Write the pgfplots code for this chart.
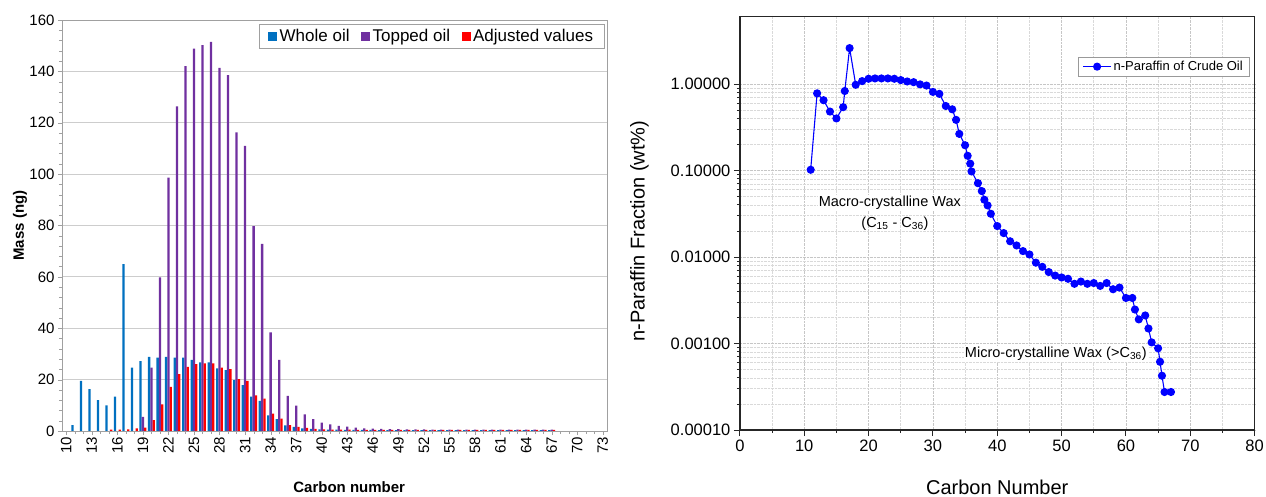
\documentclass[border=0pt]{standalone}
\usepackage{fontspec}
\setmainfont{Liberation Sans}
\usepackage{pgfplots}
\usepackage{pgfplotstable}
\pgfplotsset{compat=1.18}

\definecolor{wholeoil}{RGB}{0,112,192}
\definecolor{toppedoil}{RGB}{112,48,160}
\definecolor{adjusted}{RGB}{255,0,0}
\definecolor{gridgray}{RGB}{205,205,205}
\definecolor{framegray}{RGB}{160,160,160}

% Mass per carbon number (ng)
\pgfplotstableread{
c  whole topped adjusted
11 2.3   0     0
12 19.5  0     0
13 16.3  0     0
14 12.0  0     0
15 10.0  0     0.5
16 13.4  0     0.5
17 65.0  0     0.6
18 24.7  0     1.0
19 27.2  5.5   1.3
20 28.9  24.7  4.2
21 28.6  59.8  10.4
22 28.9  98.6  17.2
23 28.6  126.4 22.1
24 28.6  142.0 25.0
25 27.7  148.9 26.0
26 26.7  150.2 26.3
27 26.7  151.5 26.3
28 24.4  141.4 24.7
29 23.7  138.5 24.1
30 19.8  116.3 20.2
31 17.9  111.0 19.5
32 13.4  79.8  13.9
33 11.7  72.8  12.6
34 6.1   38.4  6.8
35 4.6   27.7  4.8
36 2.2   13.7  2.3
37 1.6   9.9   1.6
38 1.0   6.5   1.2
39 0.8   4.6   0.8
40 0.6   3.3   0.6
41 0.5   2.6   0.5
42 0.5   2.0   0.5
43 0.4   1.7   0.5
44 0.4   1.3   0.4
45 0.4   1.0   0.4
46 0.4   0.9   0.4
47 0.3   0.8   0.4
48 0.3   0.7   0.4
49 0.3   0.7   0.4
50 0.3   0.6   0.4
51 0.3   0.6   0.4
52 0.3   0.6   0.4
53 0.3   0.5   0.4
54 0.3   0.5   0.4
55 0.3   0.5   0.4
56 0.3   0.5   0.4
57 0.3   0.5   0.4
58 0.3   0.5   0.4
59 0.3   0.5   0.4
60 0.3   0.5   0.4
61 0.3   0.5   0.4
62 0.3   0.5   0.4
63 0.3   0.5   0.4
64 0.3   0.5   0.4
65 0.3   0.5   0.4
66 0.3   0.5   0.4
67 0.3   0.5   0.4
}\massdata

% n-paraffin fraction of the crude oil (wt%)
\pgfplotstableread{
x     y
11    0.102
12    0.78
13    0.65
14    0.48
15    0.40
16.05 0.54
16.3  0.83
17.05 2.6
18    0.98
19    1.08
20    1.15
21    1.16
22    1.16
23    1.16
24    1.15
25    1.11
26    1.07
27    1.05
28    0.99
29    0.96
30    0.81
31    0.77
32    0.557
33    0.51
33.6  0.385
34.1  0.265
35    0.196
35.4  0.148
35.8  0.120
36.0  0.0975
37.0  0.0714
37.6  0.0578
38.0  0.0459
38.5  0.0395
39.0  0.0316
40    0.0228
41    0.0189
42    0.0152
43    0.0136
44    0.0117
45    0.0107
46    0.0086
47    0.0077
48    0.0067
49    0.0061
50    0.0058
51    0.0056
52    0.0049
53    0.0052
54    0.0049
55    0.0050
56    0.00463
57    0.0050
58    0.00424
59    0.00443
60    0.00336
61    0.00336
61.4  0.00247
62    0.0019
63    0.00211
63.5  0.00149
64    0.00103
65    0.00088
65.3  0.000615
65.6  0.000424
66    0.000275
67    0.000275
}\paraffindata

\newcommand\fs[1]{\fontsize{#1bp}{#1bp}\selectfont}

\begin{document}
\begin{tikzpicture}
\useasboundingbox (0,0) rectangle (1266bp,497bp);

% ---------- mass distribution (bars) ----------
\begin{axis}[
  at={(62bp,66bp)}, anchor=south west,
  width=545bp, height=411bp, scale only axis,
  ybar=0pt, bar width=2.3bp,
  xmin=9.5, xmax=73.5, ymin=0, ymax=160,
  enlargelimits=false,
  xtick={10,13,...,73},
  minor xtick={10,...,73},
  ytick={0,20,...,160},
  minor y tick num=4,
  tick align=outside,
  major tick length=4bp, minor tick length=3bp,
  xtick pos=bottom, ytick pos=left,
  tick style={framegray},
  axis line style={framegray},
  ymajorgrids, grid style={gridgray, line width=0.8bp},
  /pgf/number format/assume math mode=true,
  ticklabel style={font=\fs{15}},
  xticklabel style={rotate=90, anchor=east, inner sep=2bp},
  xlabel={\bfseries Carbon number},
  ylabel={\bfseries Mass (ng)},
  xlabel style={font=\fs{15}, at={(axis description cs:0.527,-0.136)}, anchor=center},
  ylabel style={font=\fs{15}, at={(axis description cs:-0.077,0.5)}, anchor=center, rotate=0},
  legend columns=-1,
  legend style={at={(rel axis cs:0.996,0.99)}, anchor=north east,
    font=\fs{17}, draw=framegray, inner xsep=9bp, inner ysep=3bp,
    nodes={inner xsep=2.5bp},
    /tikz/every even column/.append style={column sep=9bp}},
  legend image code/.code={\fill[#1] (0bp,-4.5bp) rectangle (9bp,4.5bp);},
]
\addplot[fill=wholeoil, draw=none] table[x=c, y=whole] {\massdata};
\addplot[fill=toppedoil, draw=none] table[x=c, y=topped] {\massdata};
\addplot[fill=adjusted, draw=none] table[x=c, y=adjusted] {\massdata};
\legend{Whole oil, Topped oil, Adjusted values}
\end{axis}

% ---------- n-paraffin fraction (log scale) ----------
\begin{axis}[
  at={(739.9bp,67bp)}, anchor=south west,
  width=514.7bp, height=413.3bp, scale only axis,
  ymode=log,
  xmin=0, xmax=80, ymin=1e-4, ymax=6,
  enlargelimits=false,
  xtick={0,10,...,80},
  minor x tick num=1,
  ytick={1e-4,1e-3,1e-2,1e-1,1},
  yticklabels={0.00010,0.00100,0.01000,0.10000,1.00000},
  tick align=outside,
  major tick length=6bp, minor tick length=3bp,
  xtick pos=bottom, ytick pos=left,
  axis line style={black!85, line width=1.4bp},
  tick style={black!85, line width=0.9bp},
  grid=both,
  major grid style={gray!45, densely dotted, line width=0.8bp},
  minor grid style={gray!30, densely dotted, line width=0.6bp},
  /pgf/number format/assume math mode=true,
  ticklabel style={font=\fs{16.5}},
  xlabel={Carbon Number},
  ylabel={n-Paraffin Fraction (wt\%)},
  xlabel style={font=\fs{20}, at={(axis description cs:0.5,-0.138)}, anchor=center},
  ylabel style={font=\fs{20}, at={(axis description cs:-0.195,0.481)}, anchor=center},
  legend style={at={(rel axis cs:0.989,0.9025)}, anchor=north east,
    font=\fs{13}, draw=gray!80, inner xsep=4bp, inner ysep=2bp},
  legend image code/.code={\draw[mark repeat=2, mark phase=2, #1]
    plot coordinates {(0bp,0bp) (14bp,0bp) (28bp,0bp)};},
]
\addplot[blue, line width=1.1bp, mark=*, mark size=3.5bp,
  mark options={fill=blue, draw=blue}] table[x=x, y=y] {\paraffindata};
\legend{n-Paraffin of Crude Oil}
\node[font=\fs{14.5}, fill=white, inner sep=1bp] at (axis cs:23.3,0.0428) {Macro-crystalline Wax};
\node[font=\fs{14.5}, inner sep=1bp] at (axis cs:24.1,0.0245) {(C\textsubscript{15} - C\textsubscript{36})};
\node[font=\fs{14.5}, fill=white, inner sep=1bp] at (axis cs:49.1,0.00076) {Micro-crystalline Wax (>C\textsubscript{36})};
\end{axis}
\end{tikzpicture}
\end{document}
